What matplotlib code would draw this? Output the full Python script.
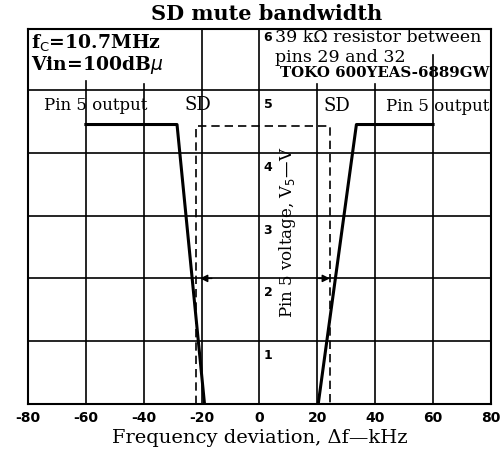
import matplotlib.pyplot as plt

# data
x_left = [-60, -28.5, -19]
y_left = [4.45, 4.45, 0]
x_right = [20.3, 33.5, 60]
y_right = [0, 4.45, 4.45]
sd_x = [-22, -22, 24.5, 24.5]
sd_y = [0, 4.42, 4.42, 0]
xticks = [-80, -60, -40, -20, 0, 20, 40, 60, 80]
yticks = [1, 2, 3, 4, 5, 6]

serif = 'DejaVu Serif'
sans = 'DejaVu Sans'
YTOP = 5.97

fig = plt.figure(figsize=(5.02, 4.61), dpi=100)
ax = fig.add_axes([0.0558, 0.1236, 0.9222, 0.8134])
ax.set_xlim(-80, 80)
ax.set_ylim(0, YTOP)

# grid: full lines up to 5, short stubs above where the notes sit
tick_top = {-60: 5.15, -40: 5.1, -20: YTOP, 0: YTOP, 20: 5.1, 40: 5.1, 60: 5.55}
for yv in yticks[:-1]:
    ax.axhline(yv, color='black', lw=1.2)
for xv in xticks[1:-1]:
    ax.plot([xv, xv], [0, tick_top[xv]], color='black', lw=1.2)

# curves
ax.plot(x_left, y_left, color='black', lw=2.2)
ax.plot(x_right, y_right, color='black', lw=2.2)
ax.plot(sd_x, sd_y, color='black', lw=1.2, ls=(0, (5, 3)))

# arrows at 2 V
ax.annotate('', xy=(-21.5, 2), xytext=(-15.5, 2),
            arrowprops=dict(arrowstyle='-|>', color='black', lw=1.0, mutation_scale=11))
ax.annotate('', xy=(25.3, 2), xytext=(19.5, 2),
            arrowprops=dict(arrowstyle='-|>', color='black', lw=1.0, mutation_scale=11))

# y tick labels inside, right of the centre line
for yv in yticks:
    ty = 5.83 if yv == 6 else yv - 0.23
    ax.text(1.4, ty, str(yv), fontsize=9, fontweight='bold', family=sans,
            ha='left', va='center')

ax.text(9.8, 2.73, 'Pin 5 voltage, V$_5$\u2014V', rotation=90, fontsize=12,
        family=serif, ha='center', va='center')

# annotations
ax.text(-79, 5.75, 'f$_\\mathrm{C}$=10.7MHz', fontsize=13.5, fontweight='bold',
        family=serif, va='center')
ax.text(-79, 5.4, 'Vin=100dB$\\mu$', fontsize=13.5, fontweight='bold',
        family=serif, va='center')
ax.text(5.2, 5.83, '39 k\u03a9 resistor between', fontsize=12.5, family=serif, va='center')
ax.text(5.2, 5.52, 'pins 29 and 32', fontsize=12.5, family=serif, va='center')
ax.text(79.5, 5.27, 'TOKO 600YEAS-6889GW', fontsize=10.8, fontweight='bold',
        family=serif, ha='right', va='center')
ax.text(-74.5, 4.76, 'Pin 5 output', fontsize=12, family=serif, va='center')
ax.text(-26, 4.76, 'SD', fontsize=13, family=serif, va='center')
ax.text(22, 4.74, 'SD', fontsize=13, family=serif, va='center')
ax.text(79.5, 4.74, 'Pin 5 output', fontsize=12, family=serif, ha='right', va='center')

ax.set_xticks(xticks)
ax.set_xticklabels([str(v) for v in xticks], fontsize=10, fontweight='bold', family=sans)
ax.tick_params(axis='x', length=0, pad=5)
ax.set_yticks([])
ax.set_xlabel('Frequency deviation, \u0394f\u2014kHz', fontsize=14, family=serif, labelpad=3)
for s in ax.spines.values():
    s.set_linewidth(1.5)

fig.text(0.532, 0.97, 'SD mute bandwidth', fontsize=15, fontweight='bold', family=serif,
         ha='center', va='center')

fig.savefig('out.png', dpi=100)
